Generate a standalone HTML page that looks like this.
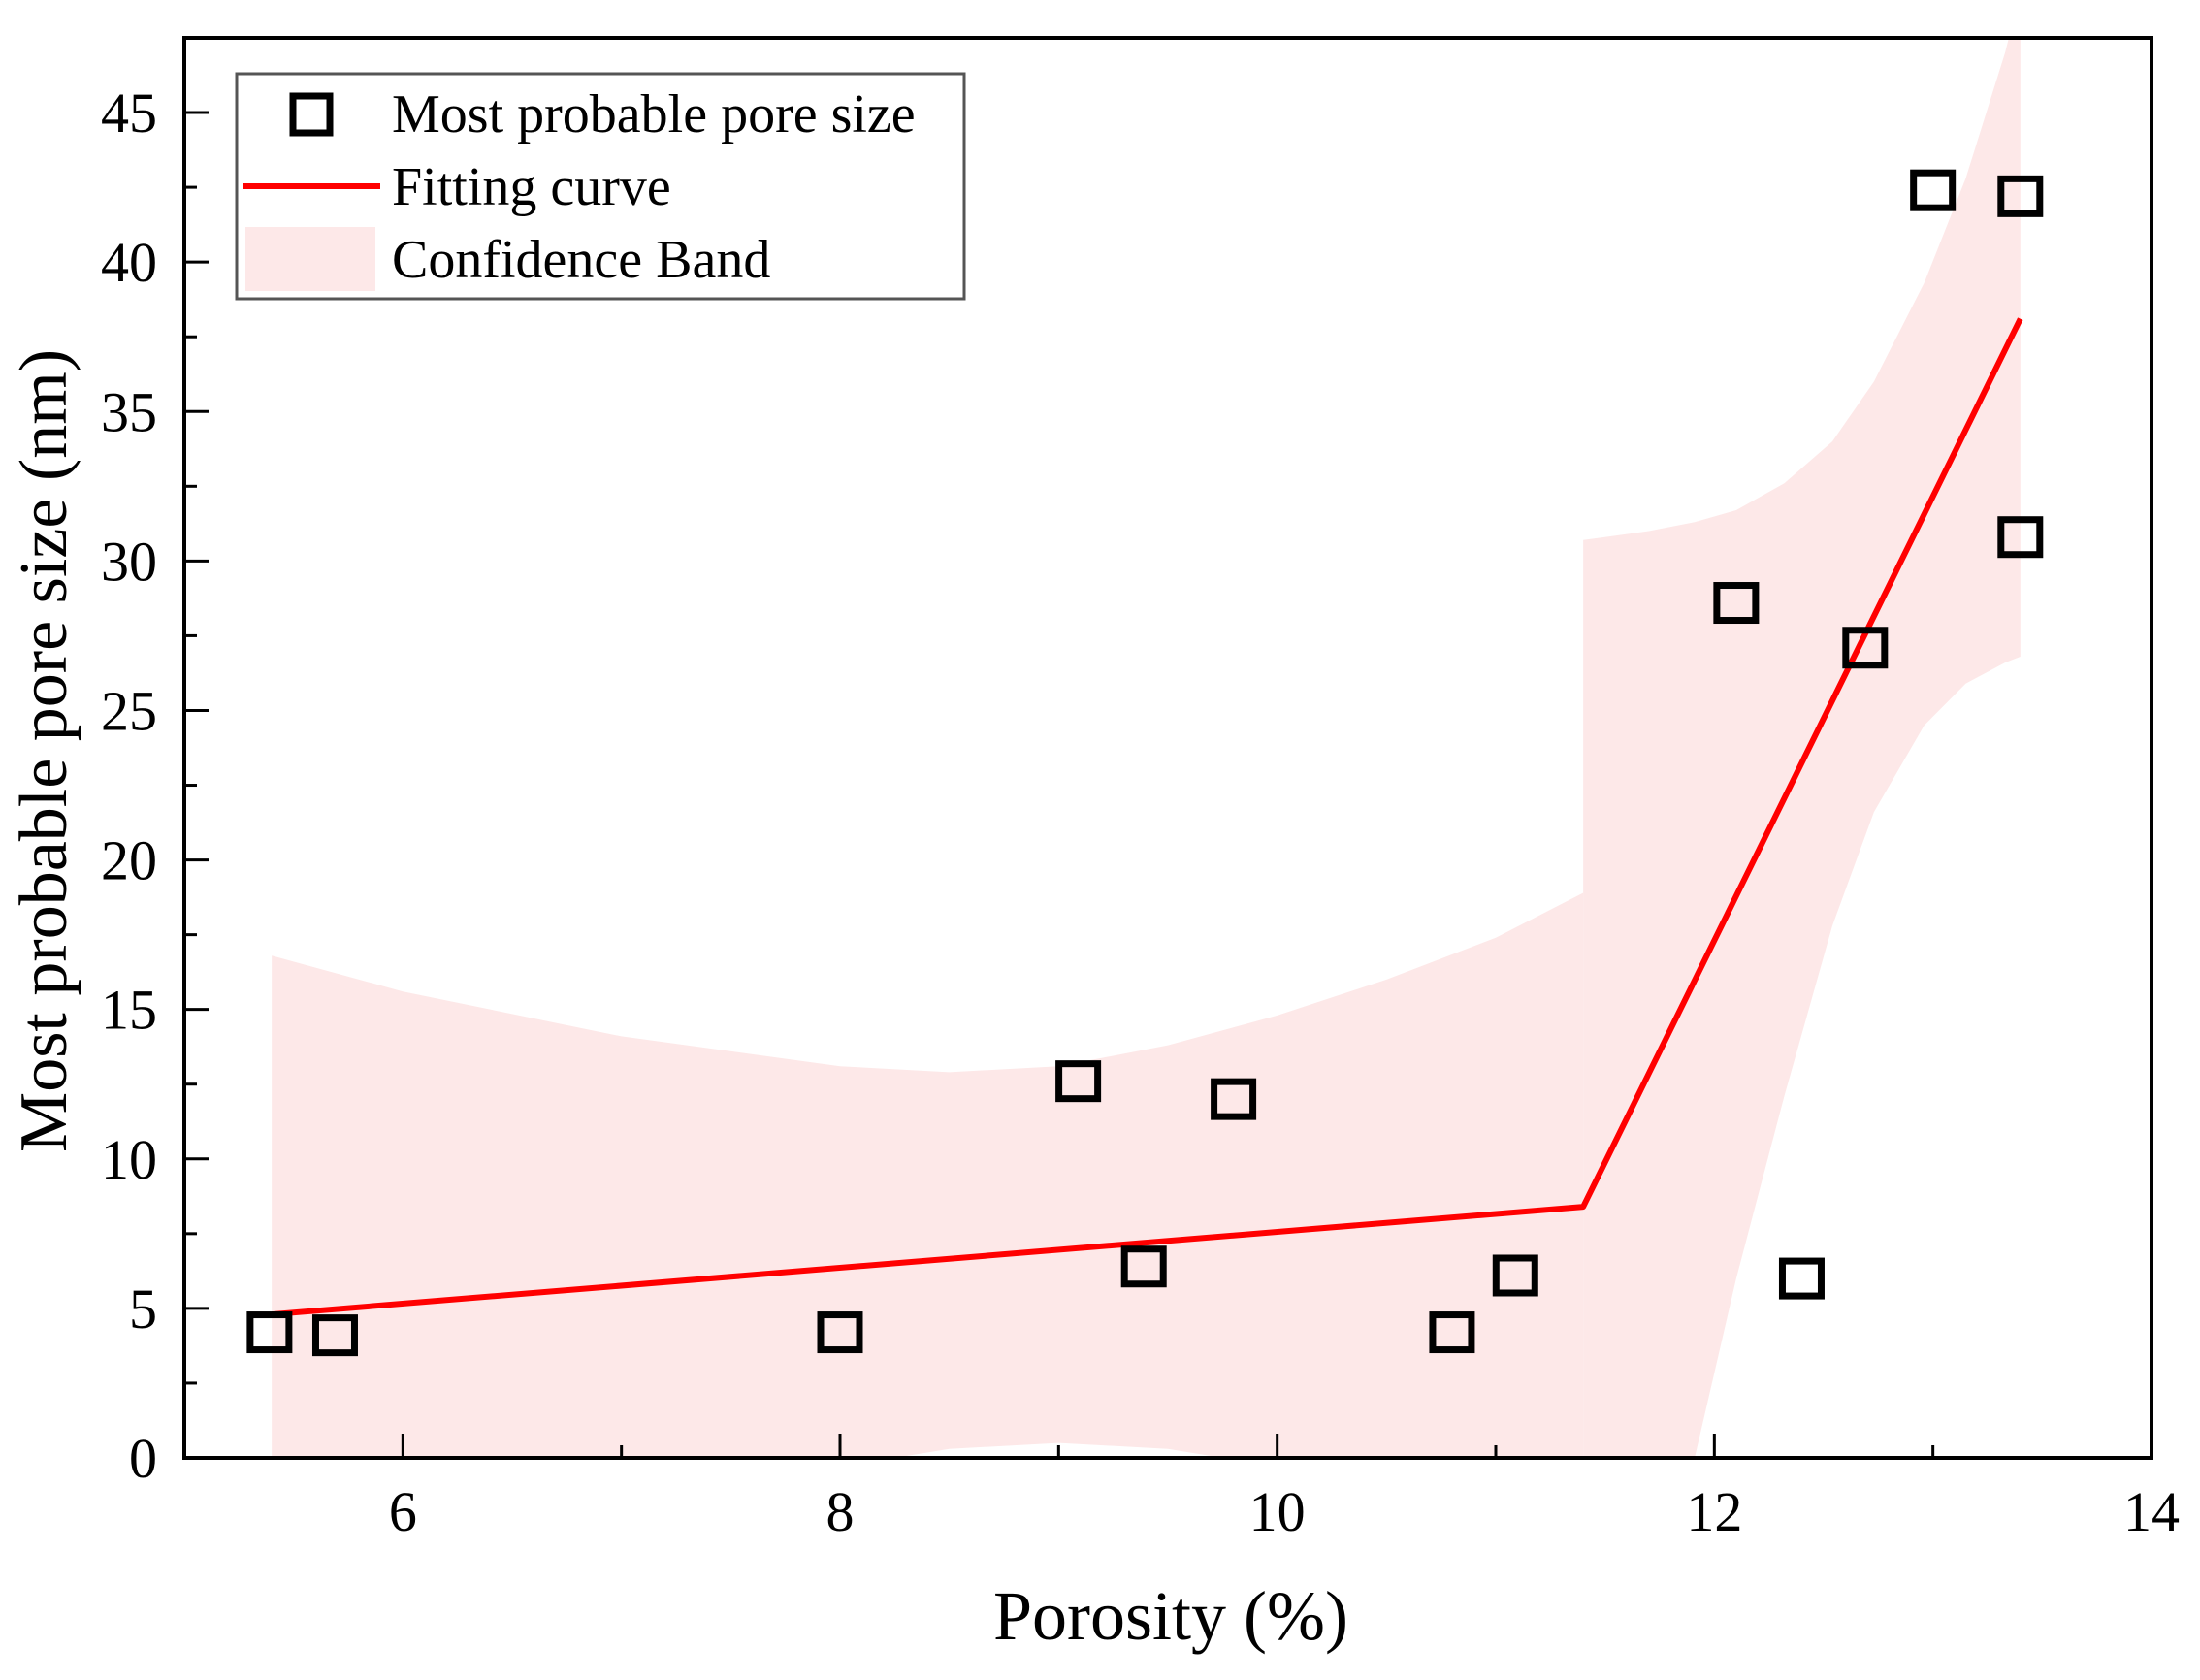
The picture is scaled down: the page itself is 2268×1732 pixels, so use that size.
<!DOCTYPE html>
<html><head><meta charset="utf-8"><style>
body{margin:0;background:#fff}
svg{display:block}
text{font-family:"Liberation Serif",serif;fill:#000}
</style></head><body>
<svg id="chart" width="2268" height="1732" viewBox="0 0 2268 1732" xmlns="http://www.w3.org/2000/svg">
<defs><clipPath id="plotclip"><rect x="190" y="39" width="2028" height="1464"/></clipPath></defs>
<g id="band" clip-path="url(#plotclip)"></g>
<g id="fit" clip-path="url(#plotclip)"></g>
<g id="pts"></g>
<g id="axes"></g>
<rect x="190" y="39" width="2028" height="1464" fill="none" stroke="#000" stroke-width="4"/>
<g>
<rect x="244" y="76" width="750" height="232" fill="#fff" stroke="#555" stroke-width="3"/>
<rect x="302" y="99" width="38" height="38" fill="none" stroke="#000" stroke-width="7"/>
<line x1="250" y1="192" x2="392" y2="192" stroke="#f00" stroke-width="6"/>
<rect x="253" y="234" width="134" height="66" fill="#fde8e8"/>
<text x="404" y="136" font-size="56">Most probable pore size</text>
<text x="404" y="211" font-size="56">Fitting curve</text>
<text x="404" y="286" font-size="56">Confidence Band</text>
</g>
<text x="1207" y="1690" font-size="72" text-anchor="middle">Porosity (%)</text>
<text transform="translate(68,774) rotate(-90)" font-size="70" text-anchor="middle">Most probable pore size (nm)</text>
</svg>
<script>
const ptX=[5.39,5.69,8.0,9.09,9.39,9.8,10.8,11.09,12.1,12.4,12.69,13.0,13.4,13.4];
const ptY=[4.2,4.1,4.2,12.6,6.4,12.0,4.2,6.1,28.6,6.0,27.1,42.4,42.2,30.8];
const fitX=[5.4,11.4,13.4];
const fitY=[4.8,8.4,38.1];
const bandLX=[5.4,6,7,8,8.5,9,9.5,10,10.5,11,11.4];
const bandLUp=[16.8,15.6,14.1,13.1,12.9,13.1,13.8,14.8,16.0,17.4,18.9];
const bandLLo=[-6,-4,-1.8,-0.3,0.3,0.5,0.3,-0.3,-1,-2,-3];
const bandRX=[11.4,11.7,11.91,12.1,12.32,12.54,12.73,12.96,13.15,13.33,13.4];
const bandRUp=[30.7,31.0,31.3,31.7,32.6,34.0,36.0,39.3,42.8,47.0,49.0];
const bandRLo=[-10,-4,0,6,12.1,17.8,21.6,24.5,25.9,26.6,26.8];
const xTicks=[6,8,10,12,14];
const xMinor=[7,9,11,13];
const yTicks=[0,5,10,15,20,25,30,35,40,45];
const yMinor=[2.5,7.5,12.5,17.5,22.5,27.5,32.5,37.5,42.5,47.5];
const X=v=>190+(v-5)/9*2028;
const Y=v=>1503-v/47.5*1464;
const NS='http://www.w3.org/2000/svg';
function mk(tag,attrs,parent){const e=document.createElementNS(NS,tag);for(const k in attrs)e.setAttribute(k,attrs[k]);parent.appendChild(e);return e;}
const band=document.getElementById('band');
function bandPoly(xs,up,lo,name){
 let p=xs.map((x,i)=>X(x)+','+Y(up[i]));
 for(let i=xs.length-1;i>=0;i--)p.push(X(xs[i])+','+Y(lo[i]));
 const e=mk('polygon',{points:p.join(' '),fill:'#fde8e8'},band);
 
 
}
bandPoly(bandLX,bandLUp,bandLLo,'band-segment-left');
bandPoly(bandRX,bandRUp,bandRLo,'band-segment-right');
const fit=document.getElementById('fit');
const fl=mk('polyline',{points:fitX.map((x,i)=>X(x)+','+Y(fitY[i])).join(' '),fill:'none',stroke:'#f00','stroke-width':6,'stroke-linejoin':'round'},fit);


const pts=document.getElementById('pts');
ptX.forEach((x,i)=>{
 const r=mk('rect',{x:X(x)-20,y:Y(ptY[i])-18,width:40,height:36,fill:'none',stroke:'#000','stroke-width':7},pts);
 
 
});
const ax=document.getElementById('axes');
xTicks.forEach(v=>{
 const l=mk('line',{x1:X(v),x2:X(v),y1:1503,y2:1478,stroke:'#000','stroke-width':3},ax);
 
 
 const t=mk('text',{x:X(v),y:1578,'font-size':58,'text-anchor':'middle'},ax);
 t.textContent=v;
 
 
});
xMinor.forEach(v=>{
 const l=mk('line',{x1:X(v),x2:X(v),y1:1503,y2:1490,stroke:'#000','stroke-width':3},ax);
 
 
});
yTicks.forEach(v=>{
 const l=mk('line',{x1:190,x2:215,y1:Y(v),y2:Y(v),stroke:'#000','stroke-width':3},ax);
 
 
 const t=mk('text',{x:162,y:Y(v)+20,'font-size':58,'text-anchor':'end'},ax);
 t.textContent=v;
 
 
});
yMinor.forEach(v=>{
 const l=mk('line',{x1:190,x2:203,y1:Y(v),y2:Y(v),stroke:'#000','stroke-width':3},ax);
 
 
});
</script>
</body></html>
